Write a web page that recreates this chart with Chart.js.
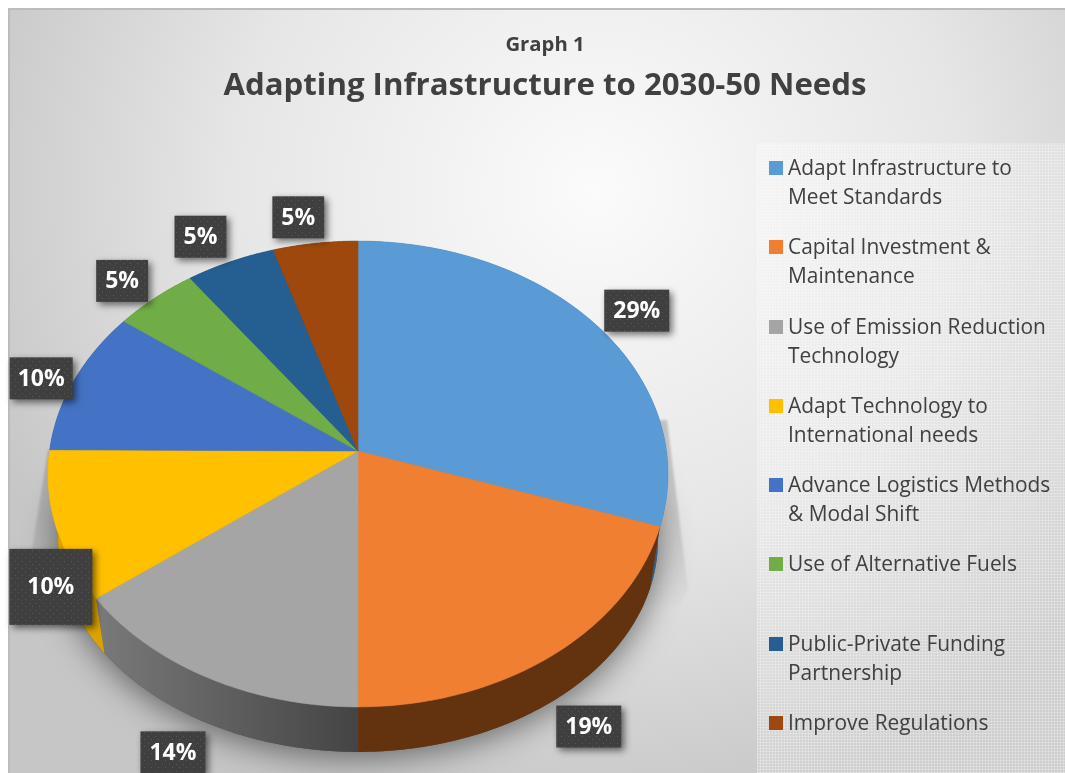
<!DOCTYPE html>
<html>
<head>
<meta charset="utf-8">
<title>Graph 1</title>
<script src="https://cdn.jsdelivr.net/npm/chart.js@4/dist/chart.umd.js"></script>
<style>
  html, body { margin: 0; padding: 0; background: #fff; overflow: hidden; }
  #page { position: relative; width: 1065px; height: 773px; overflow: hidden; font-family: "Open Sans", sans-serif; }
  #backdrop {
    position: absolute; left: 8px; top: 8px; right: 0; bottom: 0;
    border-top: 2px solid #bcbcbc; border-left: 2px solid #bcbcbc;
    background: radial-gradient(ellipse 660px 640px at 585px 180px, #fbfbfb 0%, #e6e6e6 55%, #c6c6c6 100%);
  }
  #legendPanel {
    position: absolute; left: 757px; top: 143px; right: 0; bottom: 0;
    background-color: rgba(255, 255, 255, 0.14);
    background-image:
      repeating-linear-gradient(90deg, rgba(255,255,255,.24) 0 1px, transparent 1px 3px),
      repeating-linear-gradient(0deg, rgba(255,255,255,.24) 0 1px, transparent 1px 3px);
  }
  canvas { position: absolute; left: 0; top: 0; }
  #heading { position: absolute; left: 0; top: 30px; width: 1090px; text-align: center; color: #404040; font-weight: 700; }
  #heading .sub { font-size: 20.3px; line-height: 27px; }
  #heading .main { font-size: 31.2px; line-height: 42px; margin-top: 5px; }
  #legend { position: absolute; left: 769px; top: 153px; width: 290px; color: #404040; font-size: 20.9px; line-height: 29px; }
  #legend .item { height: 79.3px; display: flex; align-items: flex-start; }
  #legend .swatch { flex: none; width: 14px; height: 14px; margin: 8px 5px 0 0; }
  #legend .text { width: 272px; }
</style>
</head>
<body>
<div id="page">
  <div id="backdrop"></div>
  <div id="legendPanel"></div>
  <canvas id="pieChart" width="1065" height="773"></canvas>
  <div id="heading">
    <div class="sub">Graph 1</div>
    <div class="main">Adapting Infrastructure to 2030-50 Needs</div>
  </div>
  <div id="legend"></div>
</div>
<script>
const categories = [
    'Adapt Infrastructure to Meet Standards',
    'Capital Investment & Maintenance',
    'Use of Emission Reduction Technology',
    'Adapt Technology to International needs',
    'Advance Logistics Methods & Modal Shift',
    'Use of Alternative Fuels',
    'Public-Private Funding Partnership',
    'Improve Regulations'
];
const shares = [29.49, 19.42, 14.4, 10.13, 9.84, 4.75, 5.03, 4.75];
const sliceColors = ['#5B9BD5', '#F07F32', '#A5A5A5', '#FFC000', '#4472C4', '#70AD47', '#255E91', '#9E480E'];
// side wall colours, left to right
const wallColors = [
    ['#2f5f8a', '#2f5f8a'], ['#63330f', '#63330f'], ['#7a7a7a', '#444444'], ['#d9a300', '#d9a300'],
    ['#2a4a80', '#2a4a80'], ['#48702e', '#48702e'], ['#183d5e', '#183d5e'], ['#672f09', '#672f09']
];
// label box centre relative to the middle of the slice's outer edge
const labelShift = [[42, -13], [35, 72], [-34, 75], [-5, 61], [-33, -2], [-33, -17], [-30, -25], [-17, -26]];
const labelPad = [[9, 10], [9, 10], [9, 10], [18, 27], [8, 10], [9, 10], [9, 10], [9, 10]];

// perspective of the tilted disc
const tilt = { rx: 0.995, ry: 0.744, k: -0.0987 };
const base = { rx: 300 / 310, ry: 212 / 233, topCentreY: 474, centreY: 540 };

function topPoint(arc, angle) {
    const u = Math.cos(angle), v = Math.sin(angle);
    const w = 1 + tilt.k * v;
    return {
        x: arc.x + arc.outerRadius * tilt.rx * u / w,
        y: arc.y + arc.outerRadius * tilt.ry * v / w
    };
}

function basePoint(arc, p) {
    return {
        x: arc.x + (p.x - arc.x) * base.rx,
        y: base.centreY + (p.y - base.topCentreY) * base.ry
    };
}

function wedge(ctx, arc) {
    const steps = 80;
    ctx.beginPath();
    ctx.moveTo(arc.x, arc.y);
    for (let i = 0; i <= steps; i++) {
        const p = topPoint(arc, arc.startAngle + (arc.endAngle - arc.startAngle) * i / steps);
        ctx.lineTo(p.x, p.y);
    }
    ctx.closePath();
}

// strip between the top edge and the base edge of one slice
function wallBand(ctx, arc) {
    const steps = 80;
    ctx.beginPath();
    for (let i = 0; i <= steps; i++) {
        const p = topPoint(arc, arc.startAngle + (arc.endAngle - arc.startAngle) * i / steps);
        if (i === 0) ctx.moveTo(p.x, p.y);
        else ctx.lineTo(p.x, p.y);
    }
    for (let i = steps; i >= 0; i--) {
        const p = basePoint(arc, topPoint(arc, arc.startAngle + (arc.endAngle - arc.startAngle) * i / steps));
        ctx.lineTo(p.x, p.y);
    }
    ctx.closePath();
}

function baseOutline(ctx, arc) {
    ctx.beginPath();
    for (let i = 0; i <= 200; i++) {
        const p = basePoint(arc, topPoint(arc, i / 200 * Math.PI * 2));
        if (i === 0) ctx.moveTo(p.x, p.y);
        else ctx.lineTo(p.x, p.y);
    }
    ctx.closePath();
}

function dotPattern(ctx) {
    const tile = document.createElement('canvas');
    tile.width = 7;
    tile.height = 7;
    const t = tile.getContext('2d');
    t.fillStyle = '#3f3f3f';
    t.fillRect(0, 0, 7, 7);
    t.fillStyle = '#585858';
    t.fillRect(1, 1, 1, 1);
    t.fillRect(4, 4, 1, 1);
    return ctx.createPattern(tile, 'repeat');
}

const tiltedPie = {
    id: 'tiltedPie',
    // the arcs keep their angles, only the way they are painted changes
    beforeDatasetsDraw(chart) {
        const ctx = chart.ctx;
        const arcs = chart.getDatasetMeta(0).data;
        const first = arcs[0];

        // flare of shadow either side of the disc
        ctx.save();
        const flare = ctx.createLinearGradient(0, 420, 0, 610);
        flare.addColorStop(0, 'rgba(90,90,90,0.3)');
        flare.addColorStop(0.5, 'rgba(90,90,90,0.22)');
        flare.addColorStop(1, 'rgba(90,90,90,0)');
        ctx.fillStyle = flare;
        ctx.beginPath();
        ctx.moveTo(first.x + 309, 420);
        ctx.lineTo(first.x + 330, 590);
        ctx.lineTo(first.x + 300, 640);
        ctx.lineTo(first.x - 295, 640);
        ctx.lineTo(first.x - 326, 550);
        ctx.lineTo(first.x - 310, 450);
        ctx.closePath();
        ctx.filter = 'blur(1px)';
        ctx.fill();
        ctx.restore();

        // drop shadow under the base
        ctx.save();
        ctx.shadowColor = 'rgba(0,0,0,0.5)';
        ctx.shadowBlur = 32;
        ctx.shadowOffsetY = 6;
        ctx.fillStyle = '#555';
        baseOutline(ctx, first);
        ctx.fill();
        ctx.restore();

        // side wall
        arcs.forEach((arc, i) => {
            const g = ctx.createLinearGradient(95, 0, arc.x, 0);
            g.addColorStop(0, wallColors[i][0]);
            g.addColorStop(1, wallColors[i][1]);
            ctx.fillStyle = g;
            wallBand(ctx, arc);
            ctx.fill();
        });

        // top face
        arcs.forEach((arc, i) => {
            ctx.fillStyle = sliceColors[i];
            ctx.strokeStyle = sliceColors[i];
            ctx.lineWidth = 0.6;
            wedge(ctx, arc);
            ctx.fill();
            ctx.stroke();
        });
        return false;
    },
    afterDraw(chart) {
        const ctx = chart.ctx;
        const arcs = chart.getDatasetMeta(0).data;
        const dots = dotPattern(ctx);
        ctx.save();
        ctx.font = '700 23px "Open Sans", sans-serif';
        ctx.textAlign = 'center';
        ctx.textBaseline = 'middle';
        arcs.forEach((arc, i) => {
            const edge = topPoint(arc, (arc.startAngle + arc.endAngle) / 2);
            const cx = edge.x + labelShift[i][0];
            const cy = edge.y + labelShift[i][1];
            const text = Math.round(shares[i]) + '%';
            const halfW = ctx.measureText(text).width / 2 + labelPad[i][0];
            const halfH = 11 + labelPad[i][1];
            ctx.save();
            ctx.shadowColor = 'rgba(0,0,0,0.55)';
            ctx.shadowBlur = 7;
            ctx.shadowOffsetX = 3;
            ctx.shadowOffsetY = 3;
            ctx.fillStyle = dots;
            ctx.fillRect(cx - halfW, cy - halfH, halfW * 2, halfH * 2);
            ctx.restore();
            ctx.fillStyle = '#ffffff';
            ctx.fillText(text, cx, cy + 1);
        });
        ctx.restore();
    }
};

new Chart(document.getElementById('pieChart').getContext('2d'), {
    type: 'pie',
    data: {
        labels: categories,
        datasets: [{
            data: shares,
            backgroundColor: sliceColors,
            borderWidth: 0
        }]
    },
    options: {
        responsive: false,
        animation: false,
        events: [],
        layout: { padding: { left: 48, right: 397, top: 129, bottom: 0 } },
        plugins: {
            legend: { display: false },
            tooltip: { enabled: false }
        }
    },
    plugins: [tiltedPie]
});

// Legend
const legendEl = document.getElementById('legend');
categories.forEach(function(name, i) {
    const item = document.createElement('div');
    item.className = 'item';
    const swatch = document.createElement('span');
    swatch.className = 'swatch';
    swatch.style.background = sliceColors[i];
    const text = document.createElement('span');
    text.className = 'text';
    text.textContent = name;
    item.appendChild(swatch);
    item.appendChild(text);
    legendEl.appendChild(item);
});
</script>
</body>
</html>
